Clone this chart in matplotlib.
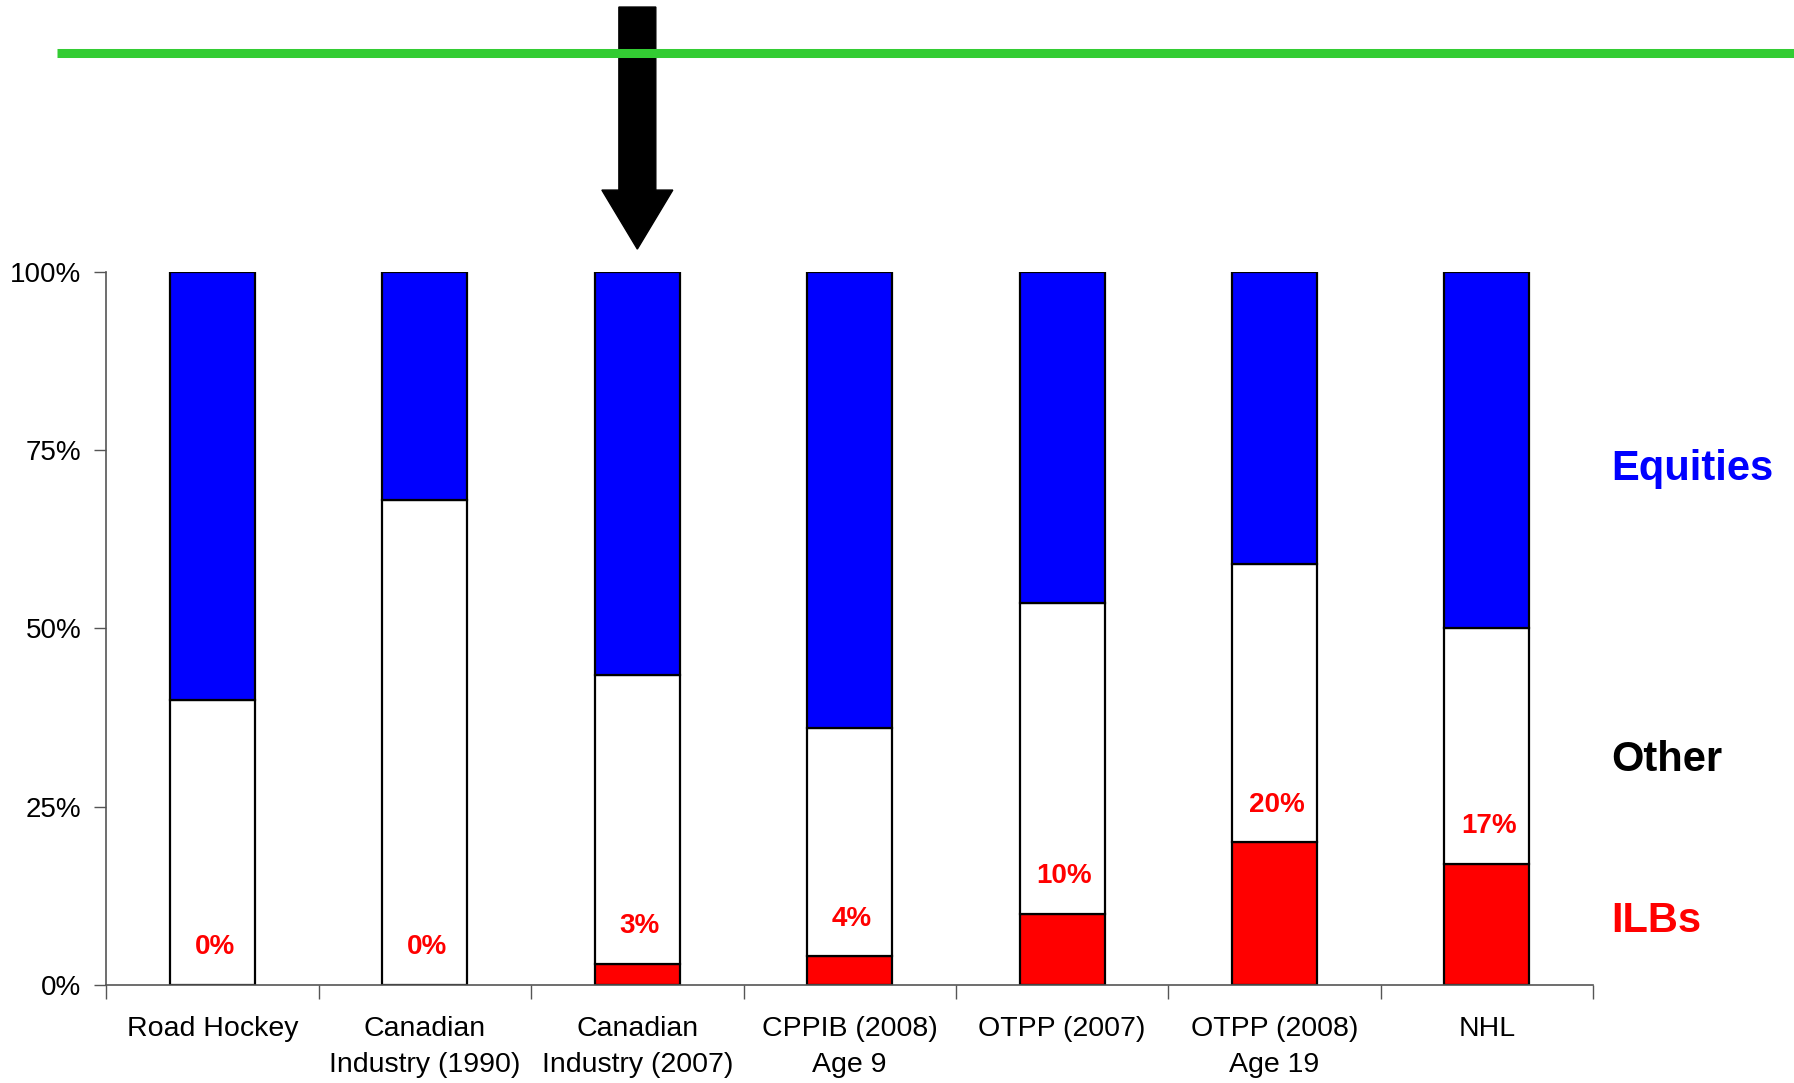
import matplotlib
matplotlib.use("Agg")
import matplotlib.pyplot as plt
from matplotlib.patches import FancyArrow
from matplotlib.lines import Line2D
from matplotlib.transforms import blended_transform_factory
import numpy as np

plt.rcParams['font.family'] = ['Liberation Sans', 'DejaVu Sans']

categories = ["Road Hockey", "Canadian\nIndustry (1990)", "Canadian\nIndustry (2007)",
              "CPPIB (2008)\nAge 9", "OTPP (2007)", "OTPP (2008)\nAge 19", "NHL"]
ilbs = [0, 0, 3, 4, 10, 20, 17]
other = [40, 68, 40.5, 32, 43.5, 39, 33]
equities = [100 - a - b for a, b in zip(ilbs, other)]

fig = plt.figure(figsize=(17.94, 10.83), dpi=100)
ax = fig.add_axes([0.0593, 0.0905, 0.8287, 0.6585])

x = np.arange(len(categories))
w = 0.4
ax.bar(x, ilbs, w, color="#ff0000", edgecolor="black", linewidth=1.6)
ax.bar(x, other, w, bottom=ilbs, color="white", edgecolor="black", linewidth=1.6)
ax.bar(x, equities, w, bottom=np.add(ilbs, other), color="#0000ff", edgecolor="black", linewidth=1.6)

for i, v in enumerate(ilbs):
    ax.text(x[i] + 0.01, v + 5.3, f"{v}%", color="red", fontsize=20, fontweight="bold",
            ha="center", va="center")

ax.set_xlim(-0.5, len(categories) - 0.5)
ax.set_ylim(0, 100)
ax.set_yticks([0, 25, 50, 75, 100])
ax.set_yticklabels(["0%", "25%", "50%", "75%", "100%"], fontsize=20)

# boundaries get the tick marks, centres get the labels
ax.set_xticks(np.arange(len(categories) + 1) - 0.5)
ax.set_xticklabels([])
ax.set_xticks(x, minor=True)
ax.set_xticklabels(categories, minor=True, fontsize=20.5, linespacing=1.5)
ax.tick_params(axis="x", which="major", length=10, width=1, color="#555555", direction="out")
ax.tick_params(axis="x", which="minor", length=0, pad=22.5)
ax.tick_params(axis="y", length=9, width=1, color="#555555", pad=9)

for s in ["top", "right"]:
    ax.spines[s].set_visible(False)
for s in ["left", "bottom"]:
    ax.spines[s].set_color("#555555")
    ax.spines[s].set_linewidth(1.2)

# series names on the right
tr = ax.get_yaxis_transform()
ax.text(1.012, 72.4, "Equities", color="#0000ff", fontsize=30, fontweight="bold",
        va="center", ha="left", transform=tr)
ax.text(1.012, 31.5, "Other", color="black", fontsize=30, fontweight="bold",
        va="center", ha="left", transform=tr)
ax.text(1.012, 9.0, "ILBs", color="#ff0000", fontsize=30, fontweight="bold",
        va="center", ha="left", transform=tr)

# green rule across the top
fig.add_artist(Line2D([0.0319, 1.0], [0.951, 0.951], color="#33cc33", linewidth=6.5,
                      solid_capstyle="butt", transform=fig.transFigure))

# arrow pointing at Canadian Industry (2007)
btr = blended_transform_factory(ax.transData, fig.transFigure)
arrow = FancyArrow(x[2], 0.9935, 0, -0.2235, width=0.174, head_width=0.334,
                   head_length=0.0545, length_includes_head=True,
                   color="black", transform=btr, clip_on=False)
fig.add_artist(arrow)

plt.savefig("out.png", dpi=100)
